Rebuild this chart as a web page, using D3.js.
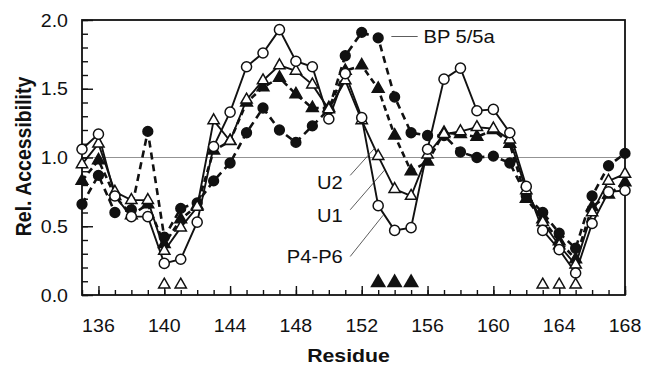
<!DOCTYPE html>
<html>
<head>
<meta charset="utf-8">
<script src="https://cdn.jsdelivr.net/npm/d3@7"></script>
<style>
  body { margin: 0; background: #fff; }
  text { font-family: "Liberation Sans", Arial, Helvetica, sans-serif; fill: #111; }
</style>
</head>
<body>
<div id="chart"></div>
<script>
'use strict';

// Residues (x categories)
const residues = [135, 136, 137, 138, 139, 140, 141, 142, 143, 144, 145, 146, 147, 148, 149, 150, 151,
    152, 153, 154, 155, 156, 157, 158, 159, 160, 161, 162, 163, 164, 165, 166, 167, 168];

// Relative accessibility per construct
const p4p6 = [1.06, 1.17, 0.72, 0.57, 0.57, 0.23, 0.26, 0.53, 1.08, 1.33, 1.66, 1.76, 1.93, 1.70, 1.66, 1.28, 1.61,
    1.29, 0.65, 0.47, 0.49, 1.06, 1.57, 1.65, 1.34, 1.35, 1.18, 0.79, 0.47, 0.33, 0.16, 0.52, 0.75, 0.76];
const u1 = [0.95, 1.10, 0.75, 0.69, 0.69, 0.32, 0.49, 0.64, 1.27, 1.12, 1.42, 1.56, 1.67, 1.63, 1.53, 1.35, 1.56,
    1.27, 1.01, 0.77, 0.72, 1.02, 1.17, 1.19, 1.22, 1.21, 1.13, 0.76, 0.53, 0.36, 0.22, 0.60, 0.83, 0.88];
const u2 = [0.83, 0.98, 0.72, 0.58, 0.66, 0.37, 0.55, 0.65, 1.05, 1.12, 1.40, 1.51, 1.58, 1.46, 1.36, 1.36, 1.63,
    1.67, 1.50, 1.16, 0.90, 0.97, 1.18, 1.17, 1.15, 1.20, 1.10, 0.70, 0.55, 0.39, 0.26, 0.64, 0.73, 0.82];
const bp55a = [0.66, 0.87, 0.60, 0.62, 1.19, 0.42, 0.63, 0.67, 0.83, 0.96, 1.18, 1.36, 1.20, 1.11, 1.23, 1.35, 1.74,
    1.91, 1.87, 1.44, 1.18, 1.16, 1.16, 1.04, 1.00, 1.01, 0.96, 0.72, 0.60, 0.45, 0.34, 0.72, 0.94, 1.03];

// Tick labels
const xTickValues = [136, 140, 144, 148, 152, 156, 160, 164, 168];
const yTickValues = [0, 0.5, 1.0, 1.5, 2.0];

// Residues flagged along the x axis
const openFlags = [140, 141, 163, 164, 165];
const filledFlags = [153, 154, 155];

// Series labels: [text, label r, label v, leader from r, v, to r, v, anchor]
const seriesLabels = [
    ['U2', 150.85, 0.82, 151.3, 0.87, 152.8, 1.07, 'end'],
    ['U1', 150.85, 0.58, 151.3, 0.62, 153.4, 0.91, 'end'],
    ['P4-P6', 150.85, 0.28, 151.3, 0.28, 153.3, 0.58, 'end'],
    ['BP 5/5a', 155.75, 1.88, 153.8, 1.88, 155.4, 1.88, 'start']
];

// Config
const W = 648, H = 367;
const margin = {top: 20, right: 23, bottom: 72, left: 82};
const gW = W - margin.left - margin.right;
const gH = H - margin.top - margin.bottom;
const stretch = 1.12;

const svg = d3.select('#chart').append('svg')
    .attr('width', W)
    .attr('height', H);

const g = svg.append('g')
    .attr('transform', `translate(${margin.left},${margin.top})`);

// Scales
const xScale = d3.scaleLinear().domain([135, 168]).range([0, gW]);
const yScale = d3.scaleLinear().domain([0, 2]).range([gH, 0]);

// Reference line at 1.0
g.append('line')
    .attr('x1', 0).attr('x2', gW)
    .attr('y1', yScale(1)).attr('y2', yScale(1))
    .attr('stroke', '#777')
    .attr('stroke-width', 0.8);

// Frame
g.append('rect')
    .attr('width', gW).attr('height', gH)
    .attr('fill', 'none')
    .attr('stroke', '#111')
    .attr('stroke-width', 1.8);

// Axes (inward ticks)
const axisStyle = sel => {
    sel.select('.domain').remove();
    sel.selectAll('line').attr('stroke', '#111').attr('stroke-width', 1.4);
};
g.append('g')
    .attr('transform', `translate(0,${gH})`)
    .call(d3.axisBottom(xScale).tickValues(xScale.ticks(33)).tickSize(-5).tickFormat(''))
    .call(axisStyle);
g.append('g')
    .attr('transform', `translate(0,${gH})`)
    .call(d3.axisBottom(xScale).tickValues(xTickValues).tickSize(-9).tickFormat(''))
    .call(axisStyle);
g.append('g')
    .call(d3.axisLeft(yScale).tickValues(yScale.ticks(20)).tickSize(-6).tickFormat(''))
    .call(axisStyle);
g.append('g')
    .call(d3.axisLeft(yScale).tickValues(yTickValues).tickSize(-11).tickFormat(''))
    .call(axisStyle);

// Tick labels
const stretchedText = (parent, x, y, txt, size, weight, anchor) => parent.append('text')
    .attr('transform', `translate(${x},${y}) scale(${stretch},1)`)
    .attr('text-anchor', anchor)
    .attr('font-size', size)
    .attr('font-weight', weight)
    .text(txt);

xTickValues.forEach(v => stretchedText(g, xScale(v), gH + 37, v, 17.5, 'normal', 'middle'));
yTickValues.forEach(v => stretchedText(g, -14, yScale(v) + 6.5, d3.format('.1f')(v), 17.5, 'normal', 'end'));

// Axis titles
stretchedText(g, gW / 2 - 5, gH + 67, 'Residue', 19, 'bold', 'middle');
g.append('text')
    .attr('transform', `translate(${-51},${gH / 2 - 1}) rotate(-90) scale(1,${stretch})`)
    .attr('text-anchor', 'middle')
    .attr('font-size', 19.5)
    .attr('font-weight', 'bold')
    .text('Rel. Accessibility');

// Series
const series = [
    {name: 'BP 5/5a', values: bp55a, dash: '7,5', sym: d3.symbolCircle, fill: '#111', size: 75},
    {name: 'U2', values: u2, dash: '6,4', sym: d3.symbolTriangle, fill: '#111', size: 60},
    {name: 'U1', values: u1, dash: null, sym: d3.symbolTriangle, fill: '#fff', size: 55},
    {name: 'P4-P6', values: p4p6, dash: null, sym: d3.symbolCircle, fill: '#fff', size: 80}
];

const lineMaker = d3.line()
    .x(d => xScale(d[0]))
    .y(d => yScale(d[1]));

series.forEach(s => {
    const pts = residues.map((r, i) => [r, s.values[i]]);
    g.append('path')
        .datum(pts)
        .attr('fill', 'none')
        .attr('stroke', '#111')
        .attr('stroke-width', s.dash ? 2.6 : 1.9)
        .attr('stroke-dasharray', s.dash)
        .attr('d', lineMaker);
});

series.forEach(s => {
    const pts = residues.map((r, i) => [r, s.values[i]]);
    g.append('g').selectAll('path')
        .data(pts)
        .join('path')
        .attr('transform', d => `translate(${xScale(d[0])},${yScale(d[1])})`)
        .attr('d', d3.symbol().type(s.sym).size(s.size))
        .attr('fill', s.fill)
        .attr('stroke', '#111')
        .attr('stroke-width', 1.5);
});

// Flags on the x axis
g.append('g').selectAll('path')
    .data(openFlags)
    .join('path')
    .attr('transform', d => `translate(${xScale(d)},${yScale(0.075)})`)
    .attr('d', d3.symbol().type(d3.symbolTriangle).size(55))
    .attr('fill', '#fff')
    .attr('stroke', '#111')
    .attr('stroke-width', 1.5);
g.append('g').selectAll('path')
    .data(filledFlags)
    .join('path')
    .attr('transform', d => `translate(${xScale(d)},${yScale(0.09)})`)
    .attr('d', d3.symbol().type(d3.symbolTriangle).size(110))
    .attr('fill', '#111');

// Series labels with leader lines
seriesLabels.forEach(([txt, lr, lv, ar, av, br, bv, anchor]) => {
    g.append('line')
        .attr('x1', xScale(ar)).attr('y1', yScale(av))
        .attr('x2', xScale(br)).attr('y2', yScale(bv))
        .attr('stroke', '#333')
        .attr('stroke-width', 0.8);
    stretchedText(g, xScale(lr), yScale(lv) + 6.5, txt, 18, 'normal', anchor);
});
</script>
</body>
</html>
